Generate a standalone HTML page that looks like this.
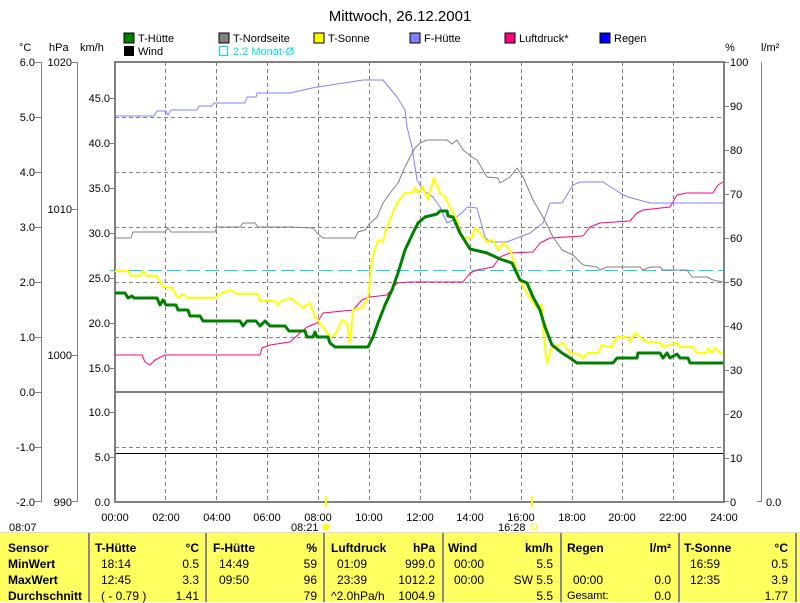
<!DOCTYPE html>
<html><head><meta charset="utf-8"><style>
html,body{margin:0;padding:0;background:#fff;}
body{width:800px;height:601px;overflow:hidden;position:relative;font-family:"Liberation Sans",sans-serif;}
svg text{font-family:"Liberation Sans",sans-serif;font-size:11px;fill:#000;}
.tbl{position:absolute;left:0;top:532px;width:800px;height:69px;background:#ffff60;border-top:1px solid #ddd;}
.col{position:absolute;top:0;height:69px;border-left:2px solid #888;box-sizing:border-box;}
.r{position:absolute;font-size:12px;white-space:nowrap;}
.b{font-weight:bold;}
</style></head><body>
<svg width="800" height="601" style="position:absolute;left:0;top:0">
<text x="400" y="21" text-anchor="middle" style="font-size:15px">Mittwoch, 26.12.2001</text>
<!-- legend -->
<rect x="124" y="33" width="10" height="10" fill="#008000" stroke="#000"/><text x="138" y="42">T-Hütte</text>
<rect x="124" y="46" width="10" height="10" fill="#000"/><text x="138" y="55">Wind</text>
<rect x="219" y="33" width="10" height="10" fill="#808080" stroke="#000"/><text x="233" y="42">T-Nordseite</text>
<rect x="219.5" y="46.5" width="8" height="9" fill="none" stroke="#00e0e0"/><text x="233" y="55" style="fill:#00e0e0">2.2 Monat-Ø</text>
<rect x="314" y="33" width="10" height="10" fill="#ffff00" stroke="#000"/><text x="328" y="42">T-Sonne</text>
<rect x="410" y="33" width="10" height="10" fill="#8080ff" stroke="#000"/><text x="424" y="42">F-Hütte</text>
<rect x="505" y="33" width="10" height="10" fill="#ff0080" stroke="#000"/><text x="519" y="42">Luftdruck*</text>
<rect x="600" y="33" width="10" height="10" fill="#0000ff" stroke="#000"/><text x="614" y="42">Regen</text>
<text x="19" y="51">°C</text><text x="49" y="51">hPa</text><text x="80" y="51">km/h</text>
<text x="725" y="51">%</text><text x="761" y="51">l/m²</text>
<!-- grid -->
<g stroke="#808080" stroke-width="1" stroke-dasharray="4,3">
<line x1="115" y1="117.5" x2="724" y2="117.5"/><line x1="115" y1="172.5" x2="724" y2="172.5"/>
<line x1="115" y1="227.5" x2="724" y2="227.5"/><line x1="115" y1="282.5" x2="724" y2="282.5"/>
<line x1="115" y1="337.5" x2="724" y2="337.5"/><line x1="115" y1="447.5" x2="724" y2="447.5"/>
<line x1="165.5" y1="62" x2="165.5" y2="502"/><line x1="216.5" y1="62" x2="216.5" y2="502"/>
<line x1="267.5" y1="62" x2="267.5" y2="502"/><line x1="318.5" y1="62" x2="318.5" y2="502"/>
<line x1="369.5" y1="62" x2="369.5" y2="502"/><line x1="420.5" y1="62" x2="420.5" y2="502"/>
<line x1="470.5" y1="62" x2="470.5" y2="502"/><line x1="521.5" y1="62" x2="521.5" y2="502"/>
<line x1="572.5" y1="62" x2="572.5" y2="502"/><line x1="622.5" y1="62" x2="622.5" y2="502"/>
<line x1="673.5" y1="62" x2="673.5" y2="502"/>
</g>
<line x1="115" y1="392" x2="724" y2="392" stroke="#808080" stroke-width="2"/>
<line x1="115" y1="453.5" x2="724" y2="453.5" stroke="#000" stroke-width="1"/>
<line x1="110" y1="270.5" x2="724" y2="270.5" stroke="#00e0e0" stroke-dasharray="14,5"/>
<!-- frame -->
<rect x="115" y="62" width="609" height="440" fill="none" stroke="#808080" stroke-width="2"/>
<!-- left axes -->
<g stroke="#808080" fill="none">
<line x1="41.5" y1="62" x2="41.5" y2="502"/><line x1="77.5" y1="62" x2="77.5" y2="502"/>
<line x1="761.5" y1="62" x2="761.5" y2="502"/>
</g>
<g stroke="#808080">
<line x1="35" y1="62.5" x2="41" y2="62.5"/><line x1="35" y1="117.5" x2="41" y2="117.5"/><line x1="35" y1="172.5" x2="41" y2="172.5"/><line x1="35" y1="227.5" x2="41" y2="227.5"/><line x1="35" y1="282.5" x2="41" y2="282.5"/><line x1="35" y1="337.5" x2="41" y2="337.5"/><line x1="35" y1="392.5" x2="41" y2="392.5"/><line x1="35" y1="447.5" x2="41" y2="447.5"/><line x1="35" y1="501.5" x2="41" y2="501.5"/>
<line x1="72" y1="62.5" x2="77" y2="62.5"/><line x1="72" y1="209.5" x2="77" y2="209.5"/><line x1="72" y1="355.5" x2="77" y2="355.5"/><line x1="72" y1="501.5" x2="77" y2="501.5"/>
<line x1="110" y1="98.5" x2="115" y2="98.5"/><line x1="110" y1="143.5" x2="115" y2="143.5"/><line x1="110" y1="188.5" x2="115" y2="188.5"/><line x1="110" y1="233.5" x2="115" y2="233.5"/><line x1="110" y1="278.5" x2="115" y2="278.5"/><line x1="110" y1="323.5" x2="115" y2="323.5"/><line x1="110" y1="368.5" x2="115" y2="368.5"/><line x1="110" y1="412.5" x2="115" y2="412.5"/><line x1="110" y1="457.5" x2="115" y2="457.5"/>
<line x1="724" y1="62.5" x2="729" y2="62.5"/><line x1="724" y1="106.5" x2="729" y2="106.5"/><line x1="724" y1="150.5" x2="729" y2="150.5"/><line x1="724" y1="194.5" x2="729" y2="194.5"/><line x1="724" y1="238.5" x2="729" y2="238.5"/><line x1="724" y1="282.5" x2="729" y2="282.5"/><line x1="724" y1="326.5" x2="729" y2="326.5"/><line x1="724" y1="370.5" x2="729" y2="370.5"/><line x1="724" y1="414.5" x2="729" y2="414.5"/><line x1="724" y1="458.5" x2="729" y2="458.5"/><line x1="724" y1="501.5" x2="729" y2="501.5"/>
<line x1="757" y1="501.5" x2="762" y2="501.5"/>
</g>
<g text-anchor="end">
<text x="35" y="66">6.0</text><text x="35" y="121">5.0</text><text x="35" y="176">4.0</text><text x="35" y="231">3.0</text><text x="35" y="286">2.0</text><text x="35" y="341">1.0</text><text x="35" y="396">0.0</text><text x="35" y="451">-1.0</text><text x="35" y="506">-2.0</text>
<text x="72" y="66">1020</text><text x="72" y="213">1010</text><text x="72" y="359">1000</text><text x="72" y="506">990</text>
<text x="110" y="102">45.0</text><text x="110" y="147">40.0</text><text x="110" y="192">35.0</text><text x="110" y="237">30.0</text><text x="110" y="282">25.0</text><text x="110" y="327">20.0</text><text x="110" y="372">15.0</text><text x="110" y="416">10.0</text><text x="110" y="461">5.0</text><text x="110" y="506">0.0</text>
</g>
<g>
<text x="730" y="66">100</text><text x="730" y="110">90</text><text x="730" y="154">80</text><text x="730" y="198">70</text><text x="730" y="242">60</text><text x="730" y="286">50</text><text x="730" y="330">40</text><text x="730" y="374">30</text><text x="730" y="418">20</text><text x="730" y="462">10</text><text x="730" y="506">0</text>
<text x="766" y="506">0.0</text>
</g>
<g text-anchor="middle">
<text x="115" y="521">00:00</text><text x="166" y="521">02:00</text><text x="217" y="521">04:00</text><text x="267" y="521">06:00</text><text x="318" y="521">08:00</text><text x="369" y="521">10:00</text><text x="420" y="521">12:00</text><text x="470" y="521">14:00</text><text x="521" y="521">16:00</text><text x="572" y="521">18:00</text><text x="622" y="521">20:00</text><text x="673" y="521">22:00</text><text x="724" y="521">24:00</text>
</g>
<text x="9" y="531">08:07</text><text x="291" y="531">08:21</text><text x="498" y="531">16:28</text>
<line x1="326" y1="496" x2="326" y2="507" stroke="#ffff00" stroke-width="2"/>
<line x1="532" y1="496" x2="532" y2="507" stroke="#ffff00" stroke-width="2"/>
<circle cx="326" cy="527" r="3.5" fill="#ffff00"/>
<rect x="531.5" y="524.5" width="5" height="5" fill="none" stroke="#ffff00"/>
<!-- series -->
<g fill="none" stroke-linejoin="round">
<polyline stroke="#ff0080" stroke-width="1" points="115,355 142,355 145,362 150,365 155,360 165,355 260,355 262,348 270,345 290,342 300,333 307,327 317,323 323,313 353,310 362,300 370,297 387,295 397,283 410,282 463,282 470,273 477,270 493,267 500,257 510,253 533,252 540,243 550,238 583,236 590,227 600,223 630,221 637,213 643,210 670,207 677,195 687,193 713,193 718,185 723,182"/>
<polyline stroke="#8080ff" stroke-width="1" points="115,116 154,116 157,111 166,111 168,115 171,110 197,110 199,106 212,106 214,103 245,103 247,97 256,97 257,93 290,93 312,88 337,84 363,80 383,80 397,97 405,110 407,127 412,147 417,180 423,190 433,197 440,207 447,223 453,220 463,212 467,207 477,208 485,237 490,242 507,242 517,238 530,233 543,223 550,203 562,203 573,185 580,182 603,182 620,193 628,197 650,203 723,203"/>
<polyline stroke="#808080" stroke-width="1" points="115,238 131,238 133,232 165,232 168,228 171,232 215,232 217,227 240,227 243,223 255,223 258,227 290,227 313,228 317,233 323,238 355,238 358,232 365,230 370,223 377,217 383,203 390,193 398,183 405,167 410,157 415,148 420,143 427,140 447,140 452,144 457,140 463,150 472,157 477,160 487,177 498,178 500,183 510,177 517,168 523,177 533,200 543,217 553,237 560,247 562,250 573,255 583,265 597,267 600,270 607,267 640,267 643,270 650,267 660,267 663,270 687,270 692,277 707,277 713,280 723,282"/>
<polyline stroke="#ffff00" stroke-width="2" points="115,271 128,271 131,276 140,276 143,271 147,276 157,276 163,287 172,288 178,298 183,294 188,298 215,298 220,294 230,290 237,294 258,294 260,301 275,301 278,305 282,301 290,298 297,303 303,308 310,303 315,317 323,327 330,337 335,335 342,320 347,323 350,343 353,310 362,308 368,298 372,260 378,240 383,242 387,227 397,203 405,193 412,193 415,188 418,193 423,187 428,200 434,178 440,193 445,197 450,207 457,220 462,238 472,238 475,228 480,233 487,242 493,240 498,250 503,243 510,250 520,280 527,293 537,308 542,305 543,327 547,363 552,348 563,343 570,353 580,355 583,358 588,353 598,353 602,345 607,347 612,347 617,337 627,337 630,342 635,333 640,337 647,342 660,343 663,347 677,343 680,347 693,347 697,353 707,353 708,348 712,353 715,348 720,353 723,354"/>
<polyline stroke="#008000" stroke-width="3" points="115,293 125,293 128,298 132,296 134,298 157,298 160,305 163,300 166,305 176,305 178,310 188,310 190,316 200,316 203,321 240,321 243,326 247,321 256,321 260,326 265,321 270,326 285,326 289,331 305,331 307,337 313,337 315,332 317,337 328,337 330,343 335,347 368,347 373,337 378,323 385,305 392,290 398,273 405,250 413,233 418,223 425,217 437,214 440,211 447,211 448,216 453,217 460,233 470,249 487,253 500,259 512,263 520,280 527,283 533,297 540,310 545,327 552,345 562,353 570,358 577,363 613,363 617,358 637,358 638,353 660,353 663,358 667,353 670,358 677,354 680,358 688,358 690,363 723,363"/>
</g>
</svg>
<div class="tbl">
<div class="col" style="left:88px;width:118px"></div>
<div class="col" style="left:205px;width:118px"></div>
<div class="col" style="left:323px;width:119px"></div>
<div class="col" style="left:442px;width:118px"></div>
<div class="col" style="left:560px;width:118px"></div>
<div class="col" style="left:678px;width:117px"></div>
<div class="col" style="left:795px;width:5px"></div>
<div class="r b" style="left:8px;top:8px">Sensor</div>
<div class="r b" style="left:8px;top:24px">MinWert</div>
<div class="r b" style="left:8px;top:40px">MaxWert</div>
<div class="r b" style="left:8px;top:56px">Durchschnitt</div>

<div class="r b" style="left:95px;top:8px">T-Hütte</div><div class="r b" style="right:601px;top:8px">°C</div>
<div class="r" style="left:101px;top:24px">18:14</div><div class="r" style="right:601px;top:24px">0.5</div>
<div class="r" style="left:101px;top:40px">12:45</div><div class="r" style="right:601px;top:40px">3.3</div>
<div class="r" style="left:101px;top:56px">( - 0.79 )</div><div class="r" style="right:601px;top:56px">1.41</div>

<div class="r b" style="left:213px;top:8px">F-Hütte</div><div class="r b" style="right:483px;top:8px">%</div>
<div class="r" style="left:219px;top:24px">14:49</div><div class="r" style="right:483px;top:24px">59</div>
<div class="r" style="left:219px;top:40px">09:50</div><div class="r" style="right:483px;top:40px">96</div>
<div class="r" style="right:483px;top:56px">79</div>

<div class="r b" style="left:331px;top:8px">Luftdruck</div><div class="r b" style="right:365px;top:8px">hPa</div>
<div class="r" style="left:337px;top:24px">01:09</div><div class="r" style="right:365px;top:24px">999.0</div>
<div class="r" style="left:337px;top:40px">23:39</div><div class="r" style="right:365px;top:40px">1012.2</div>
<div class="r" style="left:331px;top:56px">^2.0hPa/h</div><div class="r" style="right:365px;top:56px">1004.9</div>

<div class="r b" style="left:448px;top:8px">Wind</div><div class="r b" style="right:247px;top:8px">km/h</div>
<div class="r" style="left:454px;top:24px">00:00</div><div class="r" style="right:247px;top:24px">5.5</div>
<div class="r" style="left:454px;top:40px">00:00</div><div class="r" style="right:247px;top:40px">SW 5.5</div>
<div class="r" style="right:247px;top:56px">5.5</div>

<div class="r b" style="left:567px;top:8px">Regen</div><div class="r b" style="right:129px;top:8px">l/m²</div>
<div class="r" style="left:573px;top:40px">00:00</div><div class="r" style="right:129px;top:40px">0.0</div>
<div class="r" style="left:567px;top:57px;font-size:11px">Gesamt:</div><div class="r" style="right:129px;top:56px">0.0</div>

<div class="r b" style="left:684px;top:8px">T-Sonne</div><div class="r b" style="right:12px;top:8px">°C</div>
<div class="r" style="left:690px;top:24px">16:59</div><div class="r" style="right:12px;top:24px">0.5</div>
<div class="r" style="left:690px;top:40px">12:35</div><div class="r" style="right:12px;top:40px">3.9</div>
<div class="r" style="right:12px;top:56px">1.77</div>
</div>
</body></html>
